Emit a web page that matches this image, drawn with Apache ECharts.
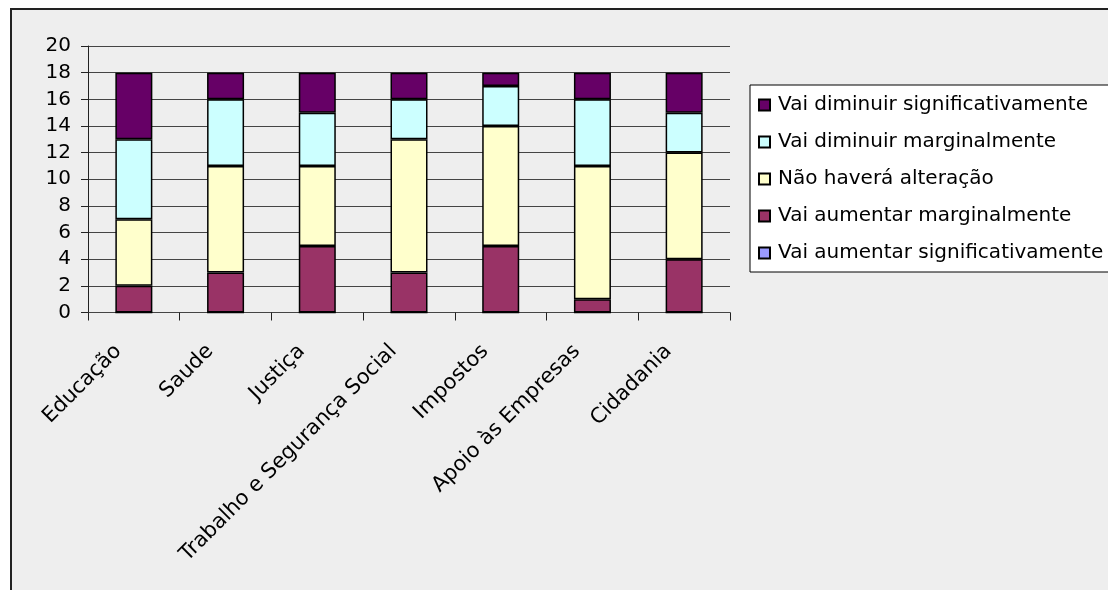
<!DOCTYPE html>
<html>
<head>
<meta charset="utf-8">
<script src="https://cdn.jsdelivr.net/npm/echarts@6/dist/echarts.min.js"></script>
<style>
html,body{margin:0;padding:0;background:#fff;}
#c{width:1108px;height:590px;}
</style>
</head>
<body>
<div id="c"></div>
<script>
const categories = ['Educação','Saude','Justiça','Trabalho e Segurança Social','Impostos','Apoio às Empresas','Cidadania'];
const seriesNames = ['Vai aumentar significativamente','Vai aumentar marginalmente','Não haverá alteração','Vai diminuir marginalmente','Vai diminuir significativamente'];
const aumentarSignificativamente = [0,0,0,0,0,0,0];
const aumentarMarginalmente = [2,3,5,3,5,1,4];
const naoHaveraAlteracao = [5,8,6,10,9,10,8];
const diminuirMarginalmente = [6,5,4,3,3,5,3];
const diminuirSignificativamente = [5,2,3,2,1,2,3];
const yTicks = [0,2,4,6,8,10,12,14,16,18,20];

const values = [aumentarSignificativamente, aumentarMarginalmente, naoHaveraAlteracao, diminuirMarginalmente, diminuirSignificativamente];
const colors = ['#9999FF','#993366','#FFFFCC','#CCFFFF','#660066'];
const FONT = 'DejaVu Sans';

const chart = echarts.init(document.getElementById('c'), null, {renderer:'canvas'});
chart.setOption({
  backgroundColor:'#ffffff',
  animation:false,
  graphic:[{
    type:'rect', z:-10, silent:true,
    shape:{x:11, y:9, width:1200, height:700},
    style:{fill:'#eeeeee', stroke:'#222', lineWidth:2}
  }],
  grid:{left:88, right:378, top:46, bottom:277.5, containLabel:false},
  legend:{
    data: seriesNames.slice().reverse(),
    orient:'vertical',
    left:750, top:85,
    padding:[10,40,9,8],
    itemWidth:11, itemHeight:11, itemGap:17,
    backgroundColor:'#ffffff',
    borderColor:'#000', borderWidth:1, borderRadius:0,
    icon:'rect',
    selectedMode:false,
    textStyle:{fontFamily:FONT, fontSize:20, color:'#000', lineHeight:20, padding:[0,0,0,3]}
  },
  xAxis:{
    type:'category', data:categories,
    axisLine:{lineStyle:{color:'#444', width:1}},
    axisTick:{show:true, length:8, alignWithLabel:false, lineStyle:{color:'#222'}},
    axisLabel:{rotate:45, interval:0, margin:20, padding:[0,22,0,0], fontFamily:FONT, fontSize:21, color:'#000'}
  },
  yAxis:{
    type:'value', min:0, max:20, interval:2,
    axisLine:{show:true, lineStyle:{color:'#222', width:1}},
    axisTick:{show:true, length:7, lineStyle:{color:'#222'}},
    splitLine:{lineStyle:{color:'#444', width:1}},
    axisLabel:{margin:17, fontFamily:FONT, fontSize:20, color:'#000',
      formatter:function(v){return yTicks.indexOf(v)>=0 ? String(v) : '';}}
  },
  series: seriesNames.map(function(name,i){
    return {
      name:name, type:'bar', stack:'total', barWidth:37,
      data: values[i],
      itemStyle:{color:colors[i], borderColor:'#000', borderWidth:1.5},
      emphasis:{disabled:true}
    };
  })
});
</script>
</body>
</html>
